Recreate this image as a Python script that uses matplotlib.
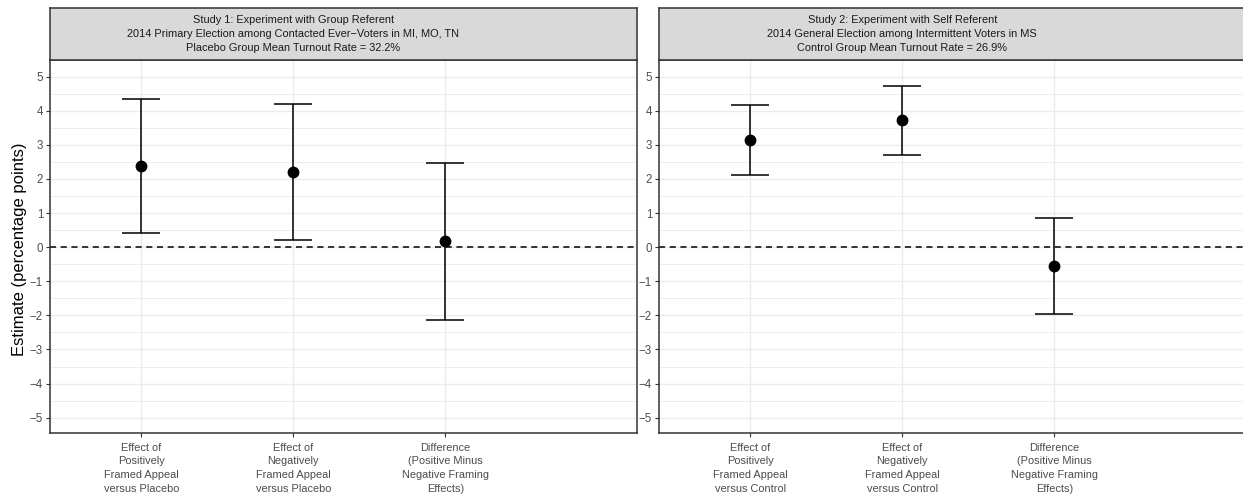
import matplotlib
matplotlib.use('Agg')
import matplotlib.pyplot as plt
import numpy as np

plt.rcParams['font.family'] = ['Liberation Sans', 'DejaVu Sans']

# data
titles = ['Study 1: Experiment with Group Referent\n'
          '2014 Primary Election among Contacted Ever\u2212Voters in MI, MO, TN\n'
          'Placebo Group Mean Turnout Rate = 32.2%',
          'Study 2: Experiment with Self Referent\n'
          '2014 General Election among Intermittent Voters in MS\n'
          'Control Group Mean Turnout Rate = 26.9%']
labels1 = ['Effect of\nPositively\nFramed Appeal\nversus Placebo',
           'Effect of\nNegatively\nFramed Appeal\nversus Placebo',
           'Difference\n(Positive Minus\nNegative Framing\nEffects)']
labels2 = ['Effect of\nPositively\nFramed Appeal\nversus Control',
           'Effect of\nNegatively\nFramed Appeal\nversus Control',
           'Difference\n(Positive Minus\nNegative Framing\nEffects)']
est1 = [2.38, 2.21, 0.18]
lo1 = [0.42, 0.22, -2.13]
hi1 = [4.34, 4.20, 2.46]
est2 = [3.15, 3.72, -0.56]
lo2 = [2.13, 2.70, -1.97]
hi2 = [4.16, 4.72, 0.85]

W, H = 1243, 497
fig = plt.figure(figsize=(W / 100, H / 100), dpi=100)

grey20 = '#333333'
grey30 = '#4D4D4D'

panels = [(50, labels1, est1, lo1, hi1, titles[0]),
          (659, labels2, est2, lo2, hi2, titles[1])]

for left, labs, est, lo, hi, title in panels:
    ax = fig.add_axes([left / W, (H - 433) / H, 587 / W, (433 - 60) / H])
    sx = fig.add_axes([left / W, (H - 60) / H, 587 / W, 52 / H])
    x = np.arange(1, len(est) + 1)
    est = np.array(est)
    lo = np.array(lo)
    hi = np.array(hi)

    ax.axhline(0, color='black', lw=1.1, ls=(0, (4, 3)), zorder=2)
    ax.errorbar(x, est, yerr=[est - lo, hi - est], fmt='o', color='black',
                ms=7.5, elinewidth=1.1, capsize=0, zorder=3)
    # caps
    ax.hlines(lo, x - 0.125, x + 0.125, color='black', lw=1.1, zorder=3)
    ax.hlines(hi, x - 0.125, x + 0.125, color='black', lw=1.1, zorder=3)

    ax.set_xlim(0.4, 4.26)
    ax.set_ylim(-5.45, 5.49)
    ax.set_xticks(x)
    ax.set_xticklabels(labs, fontsize=7.9, color=grey30, linespacing=1.45)
    ax.set_yticks(np.arange(-5, 6))
    ax.set_yticklabels([str(v).replace('-', '\u2212') for v in range(-5, 6)],
                       fontsize=8.3, color=grey30)
    ax.set_yticks(np.arange(-4.5, 5.0, 1.0), minor=True)
    ax.tick_params(axis='both', which='major', length=3, width=0.8, color=grey20, pad=2)
    ax.tick_params(axis='x', which='major', pad=4)
    ax.tick_params(axis='y', which='minor', length=0)
    ax.grid(which='major', color='#EBEBEB', lw=1.0)
    ax.grid(which='minor', axis='y', color='#EBEBEB', lw=0.6)
    ax.set_axisbelow(True)
    for s in ax.spines.values():
        s.set_color(grey20)
        s.set_linewidth(1.1)

    sx.set_xlim(0.4, 4.26)
    sx.set_ylim(0, 1)
    sx.set_facecolor('#D9D9D9')
    sx.set_xticks([])
    sx.set_yticks([])
    for s in sx.spines.values():
        s.set_color(grey20)
        s.set_linewidth(1.1)
    sx.text(2, 0.5, title, ha='center', va='center', fontsize=7.9,
            color='#1A1A1A', linespacing=1.45)

fig.text(20 / W, (H - 249) / H, 'Estimate (percentage points)', rotation=90,
         ha='center', va='center', fontsize=12)

fig.savefig('out.png', dpi=100)
